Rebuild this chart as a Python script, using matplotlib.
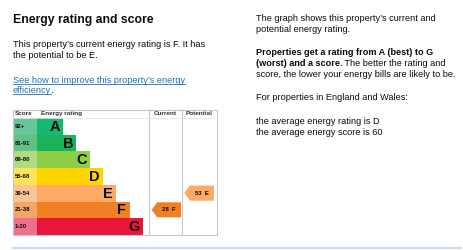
import matplotlib
matplotlib.use('Agg')
import matplotlib.pyplot as plt
from matplotlib.patches import Rectangle, Polygon

plt.rcParams['font.family'] = ['Liberation Sans', 'DejaVu Sans']

# Data
bands = ['A', 'B', 'C', 'D', 'E', 'F', 'G']
score_ranges = ['92+', '81-91', '69-80', '55-68', '39-54', '21-38', '1-20']
range_low = [92, 81, 69, 55, 39, 21, 1]
band_colors = ['#14b872', '#19b459', '#8dce46', '#ffd500', '#fcaa65', '#ef8023', '#e9153b']
score_colors = ['#68c79a', '#5fc284', '#b0db82', '#ffe45a', '#fdc493', '#f4a466', '#f06f89']
current_score = 28
potential_score = 53

ink = '#0b0c0c'
link = '#1d70b8'
fs = 6.6


def band_of(score):
    for i, low in enumerate(range_low):
        if score >= low:
            return i
    return len(bands) - 1


fig = plt.figure(figsize=(4.63, 2.5), dpi=100)
ax = fig.add_axes([0, 0, 1, 1])
ax.set_xlim(0, 463)
ax.set_ylim(250, 0)
ax.axis('off')

# left column text
ax.text(13, 23, 'Energy rating and score', fontsize=8.8, fontweight='bold', color=ink)
ax.text(13, 47, "This property\u2019s current energy rating is F. It has", fontsize=fs, color=ink)
ax.text(13, 58, 'the potential to be E.', fontsize=fs, color=ink)
links = [ax.text(13, 83, "See how to improve this property\u2019s energy", fontsize=fs, color=link),
         ax.text(13, 93, 'efficiency', fontsize=fs, color=link)]

# right column text
rx = 256
ax.text(rx, 21, "The graph shows this property\u2019s current and", fontsize=fs, color=ink)
ax.text(rx, 32, 'potential energy rating.', fontsize=fs, color=ink)
ax.text(rx, 55, 'Properties get a rating from A (best) to G', fontsize=fs, fontweight='bold', color=ink)
bold_part = ax.text(rx, 66, '(worst) and a score.', fontsize=fs, fontweight='bold', color=ink)
ax.text(rx, 77, 'score, the lower your energy bills are likely to be.', fontsize=fs, color=ink)
ax.text(rx, 100, 'For properties in England and Wales:', fontsize=fs, color=ink)
ax.text(rx, 124, 'the average energy rating is D', fontsize=fs, color=ink)
ax.text(rx, 135, 'the average energy score is 60', fontsize=fs, color=ink)

# chart geometry
x0, x_bar, x_cur, x_pot, x1 = 13, 37, 149, 182, 217
y_top, y_head = 109.5, 118
row_h = 16.7
y_bot = y_head + row_h * len(bands)
grid = '#c6c6c6'

for i, b in enumerate(bands):
    y = y_head + i * row_h
    ax.add_patch(Rectangle((x0, y), x_bar - x0, row_h, color=score_colors[i], lw=0))
    w = 26 + 13.3 * i
    ax.add_patch(Rectangle((x_bar, y), w, row_h, color=band_colors[i], lw=0))
    ax.text(x0 + 2, y + row_h / 2, score_ranges[i], fontsize=4.3, fontweight='bold',
            color=ink, va='center')
    ax.text(x_bar + w - 3, y + row_h / 2 + 0.5, b, fontsize=10.5, fontweight='bold',
            color=ink, va='center', ha='right')

# frame
ax.plot([x0, x1, x1, x0, x0], [y_top, y_top, y_bot, y_bot, y_top], color=grid, lw=0.8)
ax.plot([x_cur, x_cur], [y_top, y_bot], color=grid, lw=0.8)
ax.plot([x_pot, x_pot], [y_top, y_bot], color=grid, lw=0.8)
ax.plot([x0, x1], [y_head, y_head], color='#e4e4e4', lw=0.6)

hy = (y_top + y_head) / 2
ax.text(x0 + 1.5, hy, 'Score', fontsize=4.6, fontweight='bold', color='#333333', va='center')
ax.text(x_bar + 4, hy, 'Energy rating', fontsize=4.6, fontweight='bold', color='#333333', va='center')
ax.text((x_cur + x_pot) / 2, hy, 'Current', fontsize=4.6, fontweight='bold', color='#333333',
        va='center', ha='center')
ax.text((x_pot + x1) / 2, hy, 'Potential', fontsize=4.6, fontweight='bold', color='#333333',
        va='center', ha='center')


def arrow(score, left, right):
    i = band_of(score)
    top = y_head + i * row_h + 0.8
    bot = top + row_h - 1.6
    mid = (top + bot) / 2
    pts = [(left, mid), (left + 5.5, top), (right, top), (right, bot), (left + 5.5, bot)]
    ax.add_patch(Polygon(pts, closed=True, color=band_colors[i], lw=0))
    ax.text((left + right) / 2 + 2.5, mid, '%d  %s' % (score, bands[i]), fontsize=4.3,
            fontweight='bold', color=ink, va='center', ha='center')


arrow(current_score, x_cur + 2.7, x_pot - 1)
arrow(potential_score, x_pot + 2.3, x1 - 3)

# bottom rule
ax.plot([13, 461], [248.3, 248.3], color='#c9dcec', lw=1.5)

# underline links and continue mixed-weight line
fig.canvas.draw()
r = fig.canvas.get_renderer()
inv = ax.transData.inverted()
for t in links:
    bb = t.get_window_extent(r)
    (xa, _), (xb, _) = inv.transform([(bb.x0, bb.y0), (bb.x1, bb.y0)])
    ty = t.get_position()[1] + 1.3
    ax.plot([xa, xb], [ty, ty], color=link, lw=0.6)
bb = links[1].get_window_extent(r)
xe = inv.transform([(bb.x1, bb.y0)])[0][0]
ax.text(xe - 1.2, 93, '.', fontsize=fs, color=ink)

bb = bold_part.get_window_extent(r)
xe = inv.transform([(bb.x1, bb.y0)])[0][0]
ax.text(xe - 0.5, 66, ' The better the rating and', fontsize=fs, color=ink)

fig.savefig('out.png', dpi=100)
